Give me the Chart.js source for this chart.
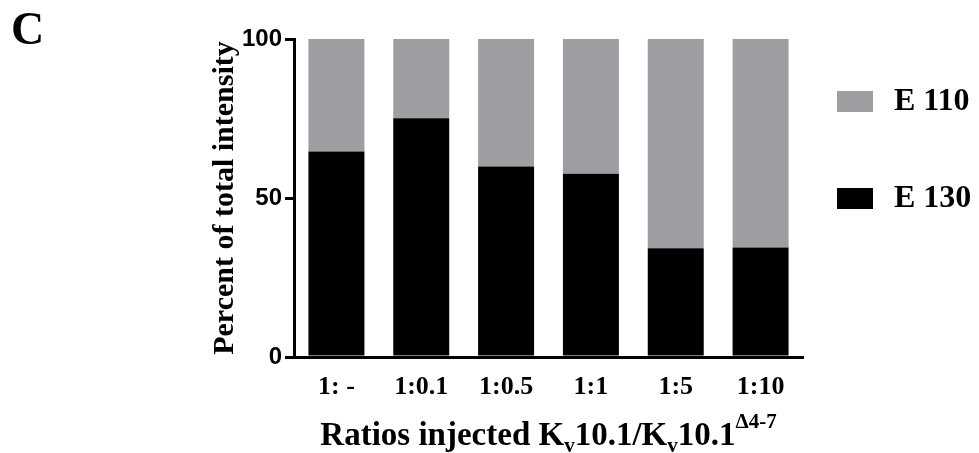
<!DOCTYPE html>
<html>
<head>
<meta charset="utf-8">
<script src="https://cdn.jsdelivr.net/npm/chart.js@4.4.1/dist/chart.umd.min.js"></script>
<style>
  html, body { margin: 0; padding: 0; background: #fff; }
  #wrap { position: relative; width: 979px; height: 453px; }
</style>
</head>
<body>
<div id="wrap"><canvas id="ratioChart"></canvas></div>
<script>
// data (percent of total intensity)
const ratios = ['1: -', '1:0.1', '1:0.5', '1:1', '1:5', '1:10'];
const e130 = [64.6, 75.1, 59.9, 57.6, 34.2, 34.4];
const e110 = [35.4, 24.9, 40.1, 42.4, 65.8, 65.6];
const yTicks = [0, 50, 100];

const GREY = '#9e9ea2';
const serifBold = (size) => ({ family: '"Liberation Serif", "Times New Roman", serif', weight: 'bold', size: size });

// panel letter, legend and the x title (needs sub/superscripts) drawn on the canvas
const extras = {
    id: 'extras',
    afterDraw(chart) {
        const c = chart.ctx;
        const area = chart.chartArea;
        c.save();
        c.fillStyle = '#000';

        // panel letter
        c.font = 'bold 46px "Liberation Serif", serif';
        c.textBaseline = 'alphabetic';
        c.textAlign = 'left';
        c.fillText('C', 11, 44);

        // legend, top entry is the top of the stack
        const items = chart.data.datasets.slice().reverse();
        c.font = 'bold 32px "Liberation Serif", serif';
        c.textBaseline = 'middle';
        items.forEach((ds, i) => {
            const yc = 101 + i * 97;
            c.fillStyle = ds.backgroundColor;
            c.fillRect(837, yc - 10, 36, 21);
            c.fillStyle = '#000';
            c.fillText(ds.label, 894, yc + 1);
        });

        // x axis title: Ratios injected Kv10.1/Kv10.1^Δ4-7
        const parts = [
            ['Ratios injected K', 0, 33],
            ['v', 7, 21],
            ['10.1/K', 0, 33],
            ['v', 7, 21],
            ['10.1', 0, 33],
            ['\u03944-7', -17, 21]
        ];
        let total = 0;
        parts.forEach(p => {
            c.font = 'bold ' + p[2] + 'px "Liberation Serif", serif';
            total += c.measureText(p[0]).width;
        });
        let x = (area.left + area.right) / 2 - total / 2;
        const base = 445;
        c.textBaseline = 'alphabetic';
        parts.forEach(p => {
            c.font = 'bold ' + p[2] + 'px "Liberation Serif", serif';
            c.fillText(p[0], x, base + p[1]);
            x += c.measureText(p[0]).width;
        });
        c.restore();
    }
};

document.addEventListener('DOMContentLoaded', function () {
    const ctx = document.getElementById('ratioChart').getContext('2d');
    new Chart(ctx, {
        type: 'bar',
        data: {
            labels: ratios,
            datasets: [
                { label: 'E 130', data: e130, backgroundColor: '#000000' },
                { label: 'E 110', data: e110, backgroundColor: GREY }
            ]
        },
        options: {
            responsive: true,
            maintainAspectRatio: false,
            animation: false,
            barPercentage: 0.66,
            categoryPercentage: 1,
            layout: { padding: { top: 39, right: 176, bottom: 0, left: 0 } },
            plugins: {
                legend: { display: false },
                tooltip: { enabled: false }
            },
            scales: {
                x: {
                    stacked: true,
                    grid: { display: false, drawTicks: false },
                    border: { display: true, color: '#000', width: 3 },
                    ticks: { color: '#000', padding: 15, font: serifBold(26) },
                    afterFit: (s) => { s.height = 96; }
                },
                y: {
                    stacked: true,
                    min: 0,
                    max: 100,
                    afterBuildTicks: (s) => { s.ticks = yTicks.map(v => ({ value: v })); },
                    grid: { drawOnChartArea: false, drawTicks: true, tickLength: 9, color: '#000', lineWidth: 3 },
                    border: { display: true, color: '#000', width: 3 },
                    ticks: {
                        color: '#000',
                        padding: 3,
                        font: { family: '"Liberation Sans", Arial, sans-serif', weight: 'bold', size: 24 }
                    },
                    title: {
                        display: true,
                        text: 'Percent of total intensity',
                        color: '#000',
                        font: Object.assign(serifBold(30), { lineHeight: 1 }),
                        padding: { top: 210, bottom: 0 }
                    },
                    afterFit: (s) => { s.width = 294; }
                }
            }
        },
        plugins: [extras]
    });
});
</script>
</body>
</html>
